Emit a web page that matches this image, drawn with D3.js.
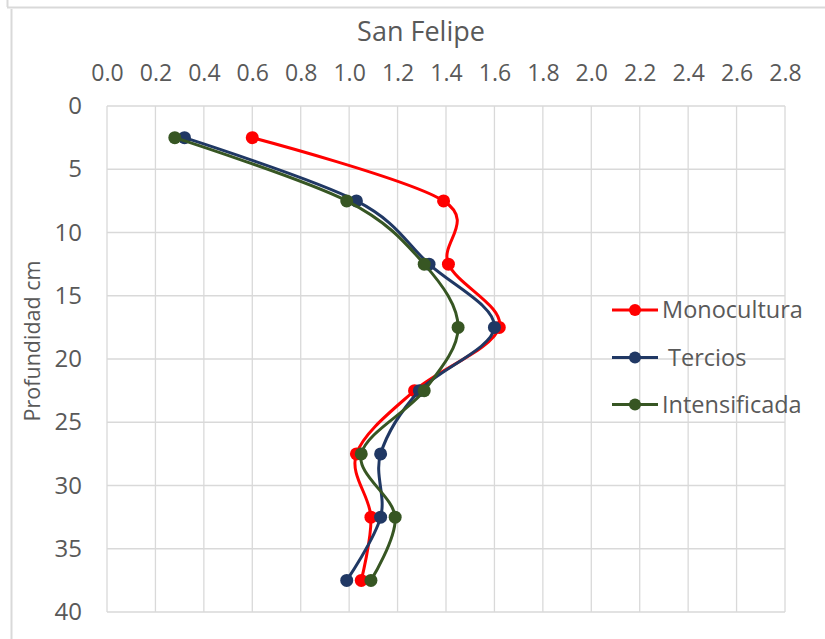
<!DOCTYPE html>
<html>
<head>
<meta charset="utf-8">
<script src="https://cdn.jsdelivr.net/npm/d3@7/dist/d3.min.js"></script>
<style>
  html, body { margin: 0; padding: 0; background: #fff; }
  svg { display: block; }
  text { font-family: "Open Sans", sans-serif; fill: #595959; }
</style>
</head>
<body>
<script>
// Depth of each sampling layer (cm) and measured values per management system
const depths = [2.5, 7.5, 12.5, 17.5, 22.5, 27.5, 32.5, 37.5];
const monocultura = [0.60, 1.39, 1.41, 1.62, 1.27, 1.03, 1.09, 1.05];
const tercios = [0.32, 1.03, 1.33, 1.60, 1.29, 1.13, 1.13, 0.99];
const intensificada = [0.28, 0.99, 1.31, 1.45, 1.31, 1.05, 1.19, 1.09];

const seriesNames = ["Monocultura", " Tercios", "Intensificada"];
const seriesColors = ["#FF0000", "#203864", "#375623"];
const seriesValues = [monocultura, tercios, intensificada];

const xTicks = [0, 0.2, 0.4, 0.6, 0.8, 1.0, 1.2, 1.4, 1.6, 1.8, 2.0, 2.2, 2.4, 2.6, 2.8];
const yTicks = [0, 5, 10, 15, 20, 25, 30, 35, 40];

const W = 825, H = 639;
const plot = { left: 107, right: 785, top: 106, bottom: 612 };

const svg = d3.select("body").append("svg").attr("width", W).attr("height", H);

// Outer frame edges of the chart object
const frame = svg.append("g").attr("stroke", "#d9d9d9").attr("stroke-width", 2).attr("fill", "none");
frame.append("line").attr("x1", 7).attr("x2", W).attr("y1", 7.5).attr("y2", 7.5);
frame.append("line").attr("x1", 7.5).attr("x2", 7.5).attr("y1", 0).attr("y2", 7);
frame.append("line").attr("x1", 11.5).attr("x2", 11.5).attr("y1", 9).attr("y2", H);

const x = d3.scaleLinear().domain([0, 2.8]).range([plot.left, plot.right]);
const y = d3.scaleLinear().domain([0, 40]).range([plot.top, plot.bottom]);

// Gridlines
const grid = svg.append("g").attr("stroke", "#d9d9d9").attr("stroke-width", 1.3);
grid.selectAll("line.v").data(xTicks).join("line")
  .attr("x1", d => x(d)).attr("x2", d => x(d))
  .attr("y1", plot.top).attr("y2", plot.bottom);
grid.selectAll("line.h").data(yTicks).join("line")
  .attr("x1", plot.left).attr("x2", plot.right)
  .attr("y1", d => y(d)).attr("y2", d => y(d));

// Top axis labels
const xAxis = d3.axisTop(x).tickValues(xTicks).tickFormat(d3.format(".1f")).tickSize(0).tickPadding(0);
const gx = svg.append("g").attr("transform", "translate(0,81)").call(xAxis);
gx.select(".domain").remove();
gx.selectAll("text").attr("font-size", 23).attr("fill", "#595959")
  .attr("font-family", "Open Sans, sans-serif");

// Left axis labels
const yAxis = d3.axisLeft(y).tickValues(yTicks).tickSize(0).tickPadding(0);
const gy = svg.append("g").attr("transform", "translate(82,0)").call(yAxis);
gy.select(".domain").remove();
gy.selectAll("text").attr("font-size", 24).attr("fill", "#595959")
  .attr("font-family", "Open Sans, sans-serif");

// Title
svg.append("text").attr("x", 421).attr("y", 41).attr("text-anchor", "middle")
  .attr("font-size", 27).text("San Felipe");

// Vertical axis title
svg.append("text").attr("transform", "translate(40,341) rotate(-90)")
  .attr("text-anchor", "middle").attr("font-size", 21.5).text("Profundidad cm");

// Smoothed series lines with markers
const line = d3.line()
  .x(d => x(d.v)).y(d => y(d.depth))
  .curve(d3.curveCatmullRom.alpha(0));

seriesValues.forEach((vals, i) => {
  const pts = depths.map((depth, j) => ({ depth, v: vals[j] }));
  const g = svg.append("g");
  g.append("path").datum(pts).attr("d", line)
    .attr("fill", "none").attr("stroke", seriesColors[i]).attr("stroke-width", 3)
    .attr("stroke-linejoin", "round").attr("stroke-linecap", "round");
  g.selectAll("circle").data(pts).join("circle")
    .attr("cx", d => x(d.v)).attr("cy", d => y(d.depth)).attr("r", 6.5)
    .attr("fill", seriesColors[i]);
});

// Legend
const legend = svg.append("g");
const legendRows = [310, 357.5, 404.5];
seriesNames.forEach((name, i) => {
  const gy0 = legendRows[i];
  legend.append("line").attr("x1", 612).attr("x2", 658).attr("y1", gy0).attr("y2", gy0)
    .attr("stroke", seriesColors[i]).attr("stroke-width", 3);
  legend.append("circle").attr("cx", 635).attr("cy", gy0).attr("r", 6).attr("fill", seriesColors[i]);
  legend.append("text").attr("x", 662).attr("y", gy0).attr("dy", "0.35em")
    .attr("font-size", 23.5).attr("xml:space", "preserve").style("white-space", "pre").text(name);
});
</script>
</body>
</html>
